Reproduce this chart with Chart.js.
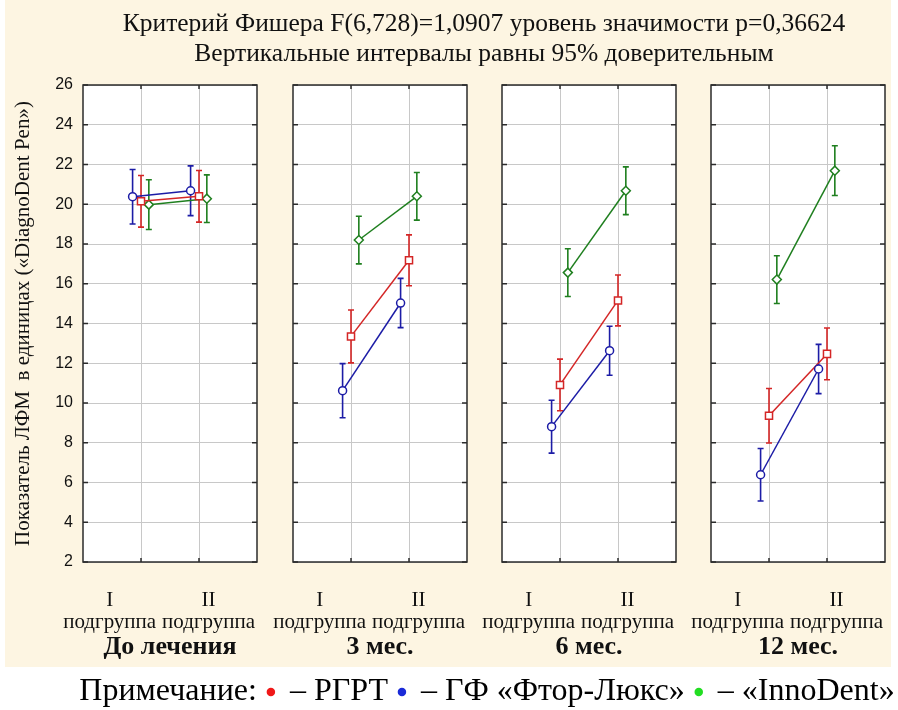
<!DOCTYPE html>
<html>
<head>
<meta charset="utf-8">
<script src="https://cdn.jsdelivr.net/npm/chart.js@4.4.0/dist/chart.umd.min.js"></script>
<style>
  body { margin:0; width:898px; height:710px; background:#fff; position:relative; overflow:hidden; }
  #bg { position:absolute; left:5px; top:0; width:886px; height:667px; background:#fdf5e2; }
  canvas { position:absolute; }
</style>
</head>
<body>
<div id="bg"></div>
<script>
// ---------- data ----------
const titleLines = ["Критерий Фишера F(6,728)=1,0907 уровень значимости p=0,36624",
                    "Вертикальные интервалы равны 95% доверительным"];
const noteLead = "Примечание:";
const periods = ["До лечения", "3 мес.", "6 мес.", "12 мес."];
const subgroupNums = ["I", "II"];
const subgroupWord = "подгруппа";
const seriesNames = ["РГРТ", "ГФ «Фтор-Люкс»", "«InnoDent»"];
const yTitle = "Показатель ЛФМ  в единицах («DiagnoDent Pen»)";
// values ordered: period0-I, period0-II, period1-I, period1-II, ...
const rgrtMean = [20.15, 20.40, 13.35, 17.18, 10.91, 15.16, 9.36, 12.47];
const rgrtCI   = [1.30, 1.30, 1.33, 1.28, 1.30, 1.28, 1.37, 1.30];
const ftorMean = [20.38, 20.68, 10.62, 15.03, 8.81, 12.63, 6.39, 11.71];
const ftorCI   = [1.37, 1.25, 1.36, 1.24, 1.33, 1.23, 1.32, 1.24];
const innoMean = [19.98, 20.28, 18.20, 20.40, 16.56, 20.68, 16.21, 21.69];
const innoCI   = [1.25, 1.20, 1.20, 1.20, 1.20, 1.20, 1.20, 1.25];

// ---------- layout / style ----------
const SERIF = 'Liberation Serif';
const PANEL_LEFT = [83, 293, 502, 711];
const PANEL_W = 174;
const SIDE = 40;
const CANVAS_TOP = 70, CANVAS_H = 597;
const LABEL_RANGE = [0.73, 2.49];
const COLORS = { rgrt:'#d42626', ftor:'#1c1ca6', inno:'#1f7f1f' };
const NOTE_COLORS = ['#f01818', '#1a2ad8', '#22dd22'];
const GRID = '#c8c8c8';

function addCanvas(left, top, w, h) {
  const c = document.createElement('canvas');
  c.width = w; c.height = h;
  c.style.left = left + 'px'; c.style.top = top + 'px';
  c.style.width = w + 'px'; c.style.height = h + 'px';
  document.body.appendChild(c);
  return c;
}

const blankBase = {
  responsive: false, animation: false, devicePixelRatio: 1, events: [],
  scales: { x: { display: false }, y: { display: false } }
};

// ---------- title ----------
new Chart(addCanvas(0, 0, 898, 70), {
  type: 'scatter',
  data: { datasets: [] },
  options: Object.assign({}, blankBase, {
    layout: { padding: { left: 70, right: 0, top: 9, bottom: 0 } },
    plugins: {
      tooltip: { enabled: false }, legend: { display: false },
      title: { display: true, text: titleLines, color: '#111',
               font: { family: SERIF, size: 25.5, lineHeight: 1.176, weight: 'normal' },
               padding: { top: 0, bottom: 0 } }
    }
  })
});

// ---------- note (legend) ----------
new Chart(addCanvas(26, 609, 900, 110), {
  type: 'scatter',
  data: { datasets: [] },
  options: Object.assign({}, blankBase, {
    layout: { padding: { left: 0, right: 0, top: 0, bottom: 1 } },
    plugins: {
      tooltip: { enabled: false },
      legend: {
        display: true, position: 'bottom',
        labels: {
          font: { family: SERIF, size: 32 }, color: '#111',
          usePointStyle: true, boxWidth: 6, boxHeight: 6, padding: 3,
          generateLabels: () => [
            { text: noteLead + ' ', fillStyle: 'rgba(0,0,0,0)', strokeStyle: 'rgba(0,0,0,0)', lineWidth: 0, pointStyle: 'circle', hidden: false },
            ...seriesNames.map((n, i) => ({ text: '– ' + n + (i < seriesNames.length - 1 ? ' ' : ''), fillStyle: NOTE_COLORS[i], strokeStyle: NOTE_COLORS[i], lineWidth: 0, pointStyle: 'circle', hidden: false }))
          ]
        }
      }
    }
  })
});

// ---------- plugins ----------
const errorBars = {
  id: 'errorBars',
  beforeDatasetsDraw(chart) {
    const ctx = chart.ctx, xs = chart.scales.x, ys = chart.scales.y;
    chart.data.datasets.forEach(ds => {
      ctx.save();
      ctx.strokeStyle = ds.borderColor;
      ctx.lineWidth = 1.6;
      ds.data.forEach((pt, i) => {
        const px = xs.getPixelForValue(pt.x);
        const top = ys.getPixelForValue(pt.y + ds.ci[i]);
        const bot = ys.getPixelForValue(pt.y - ds.ci[i]);
        ctx.beginPath();
        ctx.moveTo(px, top); ctx.lineTo(px, bot);
        ctx.moveTo(px - 3, top); ctx.lineTo(px + 3, top);
        ctx.moveTo(px - 3, bot); ctx.lineTo(px + 3, bot);
        ctx.stroke();
      });
      ctx.restore();
    });
  }
};

const frame = {
  id: 'frame',
  beforeDraw(chart) {
    const a = chart.chartArea, ctx = chart.ctx;
    ctx.save(); ctx.fillStyle = '#fff';
    ctx.fillRect(a.left, a.top, a.right - a.left, a.bottom - a.top);
    ctx.restore();
  },
  afterDraw(chart) {
    const a = chart.chartArea, ctx = chart.ctx;
    ctx.save();
    ctx.strokeStyle = '#2b2b2b';
    ctx.lineWidth = 1.5;
    ctx.strokeRect(a.left, a.top, a.right - a.left, a.bottom - a.top);
    ctx.beginPath();
    const ys = chart.scales.y, xs = chart.scales.x;
    ys.ticks.forEach(t => {
      const py = ys.getPixelForValue(t.value);
      ctx.moveTo(a.left, py); ctx.lineTo(a.left + 5, py);
      ctx.moveTo(a.right, py); ctx.lineTo(a.right - 5, py);
    });
    xs.ticks.forEach(t => {
      const px = xs.getPixelForValue(t.value);
      ctx.moveTo(px, a.top); ctx.lineTo(px, a.top + 4);
      ctx.moveTo(px, a.bottom); ctx.lineTo(px, a.bottom - 4);
    });
    ctx.stroke();
    ctx.restore();
  }
};

function noPad(s) { s.paddingLeft = 0; s.paddingRight = 0; s.paddingTop = 0; s.paddingBottom = 0; }

// ---------- panels ----------
function makePanel(p) {
  const first = p === 0;
  const left = first ? 0 : PANEL_LEFT[p] - SIDE;
  const width = first ? PANEL_LEFT[0] + PANEL_W + SIDE : PANEL_W + 2 * SIDE;
  const canvas = addCanvas(left, CANVAS_TOP, width, CANVAS_H);

  const mk = (name, color, style, radius, mean, ci, off) => ({
    label: name,
    data: [{ x: 1 + off, y: mean[2 * p] }, { x: 2 + off, y: mean[2 * p + 1] }],
    ci: [ci[2 * p], ci[2 * p + 1]],
    borderColor: color, backgroundColor: '#fff',
    pointBorderColor: color, pointBackgroundColor: '#fff',
    pointStyle: style, pointRadius: radius, pointBorderWidth: 1.5,
    borderWidth: 1.5, showLine: true, tension: 0
  });

  const numFont = { family: SERIF, size: 21 };
  const wordFont = { family: SERIF, size: 21 };
  const twoTicks = s => { s.ticks = [{ value: 1 }, { value: 2 }]; };

  new Chart(canvas, {
    type: 'scatter',
    data: {
      datasets: [
        mk(seriesNames[1], COLORS.ftor, 'circle', 4, ftorMean, ftorCI, -0.145),
        mk(seriesNames[0], COLORS.rgrt, 'rect', 5, rgrtMean, rgrtCI, 0),
        mk(seriesNames[2], COLORS.inno, 'rectRot', 4.5, innoMean, innoCI, 0.135)
      ]
    },
    options: {
      responsive: false, animation: false, devicePixelRatio: 1,
      events: [],
      layout: { padding: { top: 15, left: first ? 0 : SIDE, right: SIDE, bottom: 0 } },
      plugins: { legend: { display: false }, tooltip: { enabled: false } },
      scales: {
        x: {
          type: 'linear', min: 0, max: 3, position: 'bottom', weight: 0,
          afterBuildTicks: twoTicks,
          ticks: { display: false },
          grid: { color: GRID, drawTicks: false },
          border: { display: false },
          afterFit: s => { s.height = 0; noPad(s); }
        },
        xI: {
          type: 'linear', min: LABEL_RANGE[0], max: LABEL_RANGE[1], position: 'bottom', weight: 1,
          afterBuildTicks: twoTicks,
          ticks: { callback: (v, i) => subgroupNums[i], font: numFont, color: '#111', padding: 26, autoSkip: false, maxRotation: 0, minRotation: 0 },
          grid: { display: false, drawTicks: false },
          border: { display: false },
          afterFit: s => { s.height = 48; noPad(s); }
        },
        xP: {
          type: 'linear', min: LABEL_RANGE[0], max: LABEL_RANGE[1], position: 'bottom', weight: 2,
          afterBuildTicks: twoTicks,
          ticks: { callback: () => subgroupWord, font: wordFont, color: '#111', padding: 0, autoSkip: false, maxRotation: 0, minRotation: 0 },
          grid: { display: false, drawTicks: false },
          border: { display: false },
          title: { display: true, text: periods[p], color: '#111',
                   font: { family: SERIF, size: 26, weight: 'bold' },
                   padding: { top: 0, bottom: 4 } },
          afterFit: s => { s.height = 57; noPad(s); }
        },
        y: {
          min: 2, max: 26,
          ticks: { stepSize: 2, display: first, color: '#111', padding: 10,
                   font: { family: 'Liberation Sans', size: 16 } },
          grid: { color: GRID, drawTicks: false },
          border: { display: false },
          title: { display: first, text: yTitle, color: '#111',
                   font: { family: SERIF, size: 21 },
                   padding: { top: 11, bottom: 0 } },
          afterFit: s => { s.width = first ? PANEL_LEFT[0] : 0; noPad(s); }
        }
      }
    },
    plugins: [errorBars, frame]
  });
}

periods.forEach((_, p) => makePanel(p));
</script>
</body>
</html>
